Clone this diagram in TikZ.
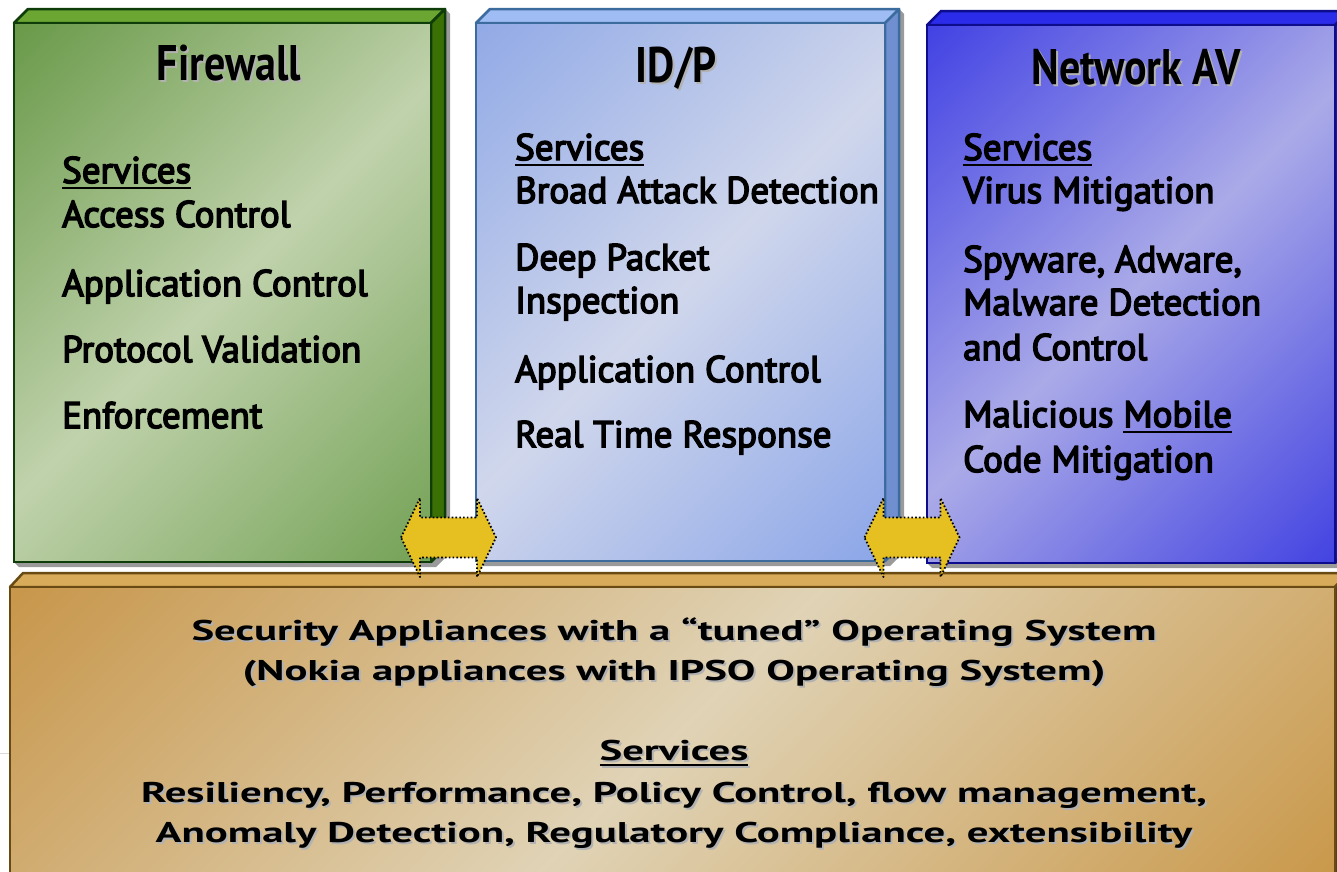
\documentclass[tikz,border=0pt]{standalone}
\usepackage{fontspec}
\setmainfont{PT Sans}
\newfontfamily\itemfont{PT Sans}[FakeBold=4]
\newfontfamily\titlefont{PT Sans Bold}[FakeStretch=0.84]
\newfontfamily\basefont{PT Sans Bold}[FakeStretch=1.5]
\definecolor{fwA}{HTML}{6A9A4A}
\definecolor{fwB}{HTML}{C0D2AC}
\definecolor{fwC}{HTML}{74A256}
\definecolor{fwTop}{HTML}{6BA633}
\definecolor{fwSide}{HTML}{3B7004}
\definecolor{fwLine}{HTML}{0F3D0A}
\definecolor{idA}{HTML}{92AAE6}
\definecolor{idB}{HTML}{D0D7EC}
\definecolor{idC}{HTML}{8CA6E8}
\definecolor{idTop}{HTML}{A0BCF4}
\definecolor{idSide}{HTML}{6F8FD0}
\definecolor{idLine}{HTML}{3C6C9E}
\definecolor{avA}{HTML}{4343E4}
\definecolor{avB}{HTML}{AAAAE8}
\definecolor{avC}{HTML}{4444E2}
\definecolor{avTop}{HTML}{2B2BEA}
\definecolor{avSide}{HTML}{1E1EB0}
\definecolor{avLine}{HTML}{0C0C8C}
\definecolor{baA}{HTML}{C8974C}
\definecolor{baB}{HTML}{E0D3B6}
\definecolor{baC}{HTML}{C9984A}
\definecolor{baTop}{HTML}{D7AB59}
\definecolor{baLine}{HTML}{694A12}
\definecolor{arrowFill}{HTML}{E6C020}
\definecolor{boxShadow}{HTML}{9A9A9A}
\pgfdeclarehorizontalshading{fwsh}{100bp}{color(0bp)=(fwA); color(15bp)=(fwA); color(50bp)=(fwB); color(85bp)=(fwC); color(100bp)=(fwC)}
\pgfdeclarehorizontalshading{idsh}{100bp}{color(0bp)=(idA); color(15bp)=(idA); color(50bp)=(idB); color(85bp)=(idC); color(100bp)=(idC)}
\pgfdeclarehorizontalshading{avsh}{100bp}{color(0bp)=(avA); color(15bp)=(avA); color(50bp)=(avB); color(85bp)=(avC); color(100bp)=(avC)}
\pgfdeclarehorizontalshading{bash}{100bp}{color(0bp)=(baA); color(15bp)=(baA); color(50bp)=(baB); color(85bp)=(baC); color(100bp)=(baC)}
\newcommand{\ulx}[2][2.4pt]{\setbox0=\hbox{#2}\rlap{\rule[-6pt]{\wd0}{#1}}\box0}
\newcommand{\shd}[1]{\leavevmode\rlap{\kern2pt\raisebox{-2pt}{\color{black!30}#1}}#1}
\tikzset{
  front/.style={shade, shading angle=-45, line width=2.5pt, inner sep=0pt, outer sep=0pt, anchor=north west},
  face/.style={line width=2.5pt, line join=round},
  itemtxt/.style={font=\itemfont\fontsize{37}{44}\selectfont, inner sep=0pt, anchor=base west},
  titletxt/.style={font=\titlefont\fontsize{50}{60}\selectfont, inner sep=0pt, anchor=base},
  basetxt/.style={font=\basefont\fontsize{28.5}{34}\selectfont, inner sep=0pt, anchor=base},
  dblarrow/.style={fill=arrowFill, draw=black, line width=1.8pt, dash pattern=on 1.6pt off 2.2pt, line join=round}
}
\begin{document}
\begin{tikzpicture}[x=1pt,y=-1pt]
\useasboundingbox (0,0) rectangle (1337,871);
\clip (0,0) rectangle (1337,871);
\fill[white] (0,0) rectangle (1337,871);
% stray line at left
\draw[black!15, line width=1pt] (0,753) -- (10,753);

% ---------- Firewall ----------
\coordinate (fwNW) at (14,23);
\coordinate (fwSE) at (431,562);
\fill[boxShadow] ([shift={(5,5)}]fwNW |- fwSE) -- ([shift={(5,5)}]fwSE) -- ([shift={(19,-9)}]fwSE) -- ([shift={(19,-9)}]fwSE |- fwNW) -- ([shift={(14,-14)}]fwSE |- fwNW) -- (fwSE |- fwNW) -- (fwSE) -- (fwNW |- fwSE) -- cycle;
\filldraw[face, fill=fwTop, draw=fwLine] (fwNW) -- ([shift={(14,-14)}]fwNW) -- ([shift={(14,-14)}]fwSE |- fwNW) -- (fwSE |- fwNW) -- cycle;
\filldraw[face, fill=fwSide, draw=fwLine] (fwSE |- fwNW) -- ([shift={(14,-14)}]fwSE |- fwNW) -- ([shift={(14,-14)}]fwSE) -- (fwSE) -- cycle;
\node[front, shading=fwsh, draw=fwLine, minimum width=417pt, minimum height=539pt] (fw) at (fwNW) {};
\node[titletxt] (fwT) at (229,80) {\shd{Firewall}};
\node[itemtxt] (fw0) at (62,183) {\ulx{Services}};
\node[itemtxt] (fw1) at (62,227) {Access Control};
\node[itemtxt] (fw2) at (62,296) {Application Control};
\node[itemtxt] (fw3) at (62,362) {Protocol Validation};
\node[itemtxt] (fw4) at (62,428) {Enforcement};

% ---------- ID/P ----------
\coordinate (idNW) at (476,23);
\coordinate (idSE) at (885,561);
\fill[boxShadow] ([shift={(5,5)}]idNW |- idSE) -- ([shift={(5,5)}]idSE) -- ([shift={(19,-9)}]idSE) -- ([shift={(19,-9)}]idSE |- idNW) -- ([shift={(14,-14)}]idSE |- idNW) -- (idSE |- idNW) -- (idSE) -- (idNW |- idSE) -- cycle;
\filldraw[face, fill=idTop, draw=idLine] (idNW) -- ([shift={(14,-14)}]idNW) -- ([shift={(14,-14)}]idSE |- idNW) -- (idSE |- idNW) -- cycle;
\filldraw[face, fill=idSide, draw=idLine] (idSE |- idNW) -- ([shift={(14,-14)}]idSE |- idNW) -- ([shift={(14,-14)}]idSE) -- (idSE) -- cycle;
\node[front, shading=idsh, draw=idLine, minimum width=409pt, minimum height=538pt] (idp) at (idNW) {};
\node[titletxt] (idT) at (676,82) {\shd{ID/P}};
\node[itemtxt] (id0) at (515,160) {\ulx{Services}};
\node[itemtxt] (id1) at (515,203) {Broad Attack Detection};
\node[itemtxt] (id2) at (515,270) {Deep Packet};
\node[itemtxt] (id3) at (515,313) {Inspection};
\node[itemtxt] (id4) at (515,382) {Application Control};
\node[itemtxt] (id5) at (515,447) {Real Time Response};

% ---------- Network AV ----------
\coordinate (avNW) at (927,25);
\coordinate (avSE) at (1335,563);
\fill[boxShadow] ([shift={(5,5)}]avNW |- avSE) -- ([shift={(5,5)}]avSE) -- ([shift={(19,-9)}]avSE) -- ([shift={(19,-9)}]avSE |- avNW) -- ([shift={(14,-14)}]avSE |- avNW) -- (avSE |- avNW) -- (avSE) -- (avNW |- avSE) -- cycle;
\filldraw[face, fill=avTop, draw=avLine] (avNW) -- ([shift={(14,-14)}]avNW) -- ([shift={(14,-14)}]avSE |- avNW) -- (avSE |- avNW) -- cycle;
\filldraw[face, fill=avSide, draw=avLine] (avSE |- avNW) -- ([shift={(14,-14)}]avSE |- avNW) -- ([shift={(14,-14)}]avSE) -- (avSE) -- cycle;
\node[front, shading=avsh, draw=avLine, minimum width=408pt, minimum height=538pt] (nav) at (avNW) {};
\node[titletxt] (avT) at (1136,84) {\shd{Network AV}};
\node[itemtxt] (av0) at (963,160) {\ulx{Services}};
\node[itemtxt] (av1) at (963,203) {Virus Mitigation};
\node[itemtxt] (av2) at (963,272) {Spyware, Adware,};
\node[itemtxt] (av3) at (963,315) {Malware Detection};
\node[itemtxt] (av4) at (963,360) {and Control};
\node[itemtxt] (av5) at (963,427) {Malicious \ulx{Mobile}};
\node[itemtxt] (av6) at (963,472) {Code Mitigation};

% ---------- Base (OS) ----------
\coordinate (baNW) at (10,587);
\coordinate (baSE) at (1335,890);
\filldraw[face, fill=baTop, draw=baLine] (baNW) -- ([shift={(13,-14)}]baNW) -- ([shift={(13,-14)}]baSE |- baNW) -- (baSE |- baNW) -- cycle;
\filldraw[face, fill=baLine!80!black, draw=baLine] (baSE |- baNW) -- ([shift={(13,-14)}]baSE |- baNW) -- ([shift={(13,-14)}]baSE) -- (baSE) -- cycle;
\node[front, shading=bash, draw=baLine, minimum width=1325pt, minimum height=303pt] (base) at (baNW) {};
\node[basetxt] (ba1) at (674,640) {\shd{Security Appliances with a “tuned” Operating System}};
\node[basetxt] (ba2) at (674,680) {\shd{(Nokia appliances with IPSO Operating System)}};
\node[basetxt] (ba3) at (674,760) {\shd{\ulx[2.2pt]{Services}}};
\node[basetxt] (ba4) at (674,802) {\shd{Resiliency, Performance, Policy Control, flow management,}};
\node[basetxt] (ba5) at (674,842) {\shd{Anomaly Detection, Regulatory Compliance, extensibility}};

% ---------- double arrows ----------
\coordinate (ar1) at (448.5,537.5);
\coordinate (ar2) at (912,537.5);
\foreach \c in {ar1,ar2}{
  \draw[dblarrow] ([shift={(-47.5,0)}]\c) -- ([shift={(-28.5,-39.5)}]\c) -- ([shift={(-28.5,-20)}]\c) -- ([shift={(28.5,-20)}]\c) -- ([shift={(28.5,-39.5)}]\c) -- ([shift={(47.5,0)}]\c) -- ([shift={(28.5,39.5)}]\c) -- ([shift={(28.5,20)}]\c) -- ([shift={(-28.5,20)}]\c) -- ([shift={(-28.5,39.5)}]\c) -- cycle;
}
\end{tikzpicture}
\end{document}
